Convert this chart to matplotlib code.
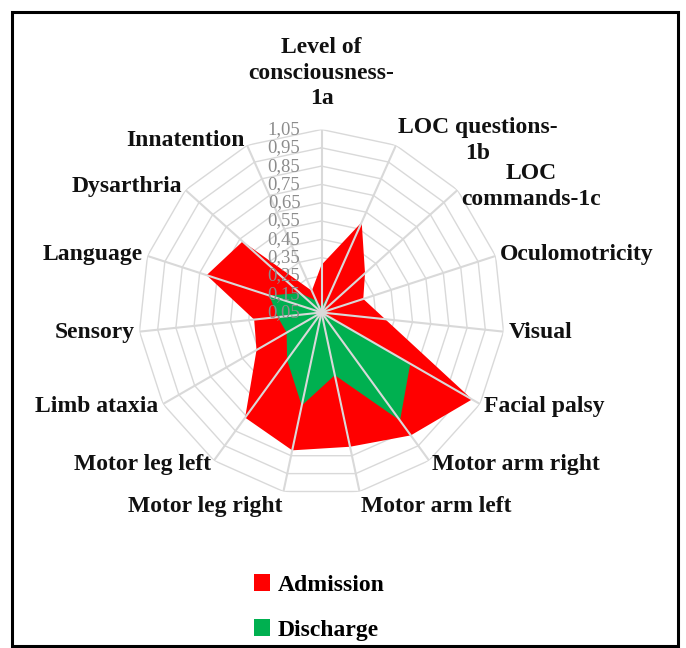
import numpy as np
import matplotlib
matplotlib.use("Agg")
import matplotlib.pyplot as plt
from matplotlib.patches import Patch, Rectangle
from matplotlib.transforms import offset_copy

categories = ["Level of\nconsciousness-\n1a", "LOC questions-\n1b", "LOC\ncommands-1c",
              "Oculomotricity", "Visual", "Facial palsy", "Motor arm right",
              "Motor arm left", "Motor leg right", "Motor leg left", "Limb ataxia",
              "Sensory", "Language", "Dysarthria", "Innatention"]
admission = [0.31, 0.59, 0.37, 0.29, 0.40, 1.00, 0.88, 0.80, 0.82, 0.76, 0.46, 0.42, 0.71, 0.63, 0.18]
discharge = [0.08, 0.20, 0.07, 0.05, 0.05, 0.61, 0.78, 0.40, 0.57, 0.37, 0.27, 0.29, 0.35, 0.21, 0.12]
ring_values = [0.05, 0.15, 0.25, 0.35, 0.45, 0.55, 0.65, 0.75, 0.85, 0.95, 1.05]
ring_labels = ["0,05", "0,15", "0,25", "0,35", "0,45", "0,55", "0,65", "0,75", "0,85", "0,95", "1,05"]
series_names = ["Admission", "Discharge"]

plt.rcParams['font.family'] = ['Liberation Serif', 'DejaVu Serif']

W, H = 686, 648
fig = plt.figure(figsize=(W / 100, H / 100), dpi=100)
cx, cy, R = 321.5, 312.5, 183.0
ax = fig.add_axes([(cx - R) / W, (H - cy - R) / H, 2 * R / W, 2 * R / H], projection='polar')
ax.set_theta_zero_location('N')
ax.set_theta_direction(-1)
ax.set_ylim(ring_values[0], ring_values[-1])
ax.grid(False)
ax.spines['polar'].set_visible(False)
ax.set_xticks([])
ax.set_yticks([])
ax.patch.set_alpha(0)

n = len(categories)
theta = 2 * np.pi * np.arange(n) / n
theta_c = np.append(theta, theta[0])

grid_col = '#d9d9d9'
for rv in ring_values[1:]:
    ax.plot(theta_c, [rv] * (n + 1), color=grid_col, lw=1.0, zorder=1)

ax.fill(theta_c, np.append(admission, admission[0]), color='#ff0000', lw=0, zorder=2)
ax.fill(theta_c, np.append(discharge, discharge[0]), color='#00b050', lw=0, zorder=2.5)

for t in theta:
    ax.plot([t, t], [ring_values[0], ring_values[-1]], color=grid_col, lw=1.5, zorder=3,
            solid_capstyle='butt')

tick_tr = offset_copy(ax.transData, fig=fig, x=-21, y=0, units='dots')
for rv, lab in zip(ring_values, ring_labels):
    ax.text(0, rv, lab, transform=tick_tr, ha='right', va='center', fontsize=13.5,
            color='#8c8c8c', zorder=5)

for t, lab in zip(theta, categories):
    dx, dy = np.sin(t), np.cos(t)
    ha = 'left' if dx > 0.1 else ('right' if dx < -0.1 else 'center')
    va = 'bottom' if dy > 0.95 else ('top' if dy < -0.95 else 'center')
    off = 20 if dy > 0.95 else 5
    tr = offset_copy(ax.transData, fig=fig, x=off * dx, y=off * dy, units='dots')
    ax.text(t, ring_values[-1], lab, transform=tr, ha=ha, va=va, fontsize=17,
            fontweight='bold', multialignment='center', linespacing=1.3, color='#111111')

handles = [Patch(facecolor='#ff0000', edgecolor='none'), Patch(facecolor='#00b050', edgecolor='none')]
fig.legend(handles, series_names, loc='upper center', bbox_to_anchor=(0.465, 1 - 553 / H),
           frameon=False, prop={'size': 17, 'weight': 'bold'}, handlelength=0.7,
           handleheight=0.7, handletextpad=0.3, labelspacing=1.0)

fig.patches.append(Rectangle((12 / W, 2 / H), (678 - 12) / W, (634) / H, transform=fig.transFigure,
                             fill=False, edgecolor='black', lw=2.2))

fig.savefig('out.png', dpi=100, facecolor='white')
